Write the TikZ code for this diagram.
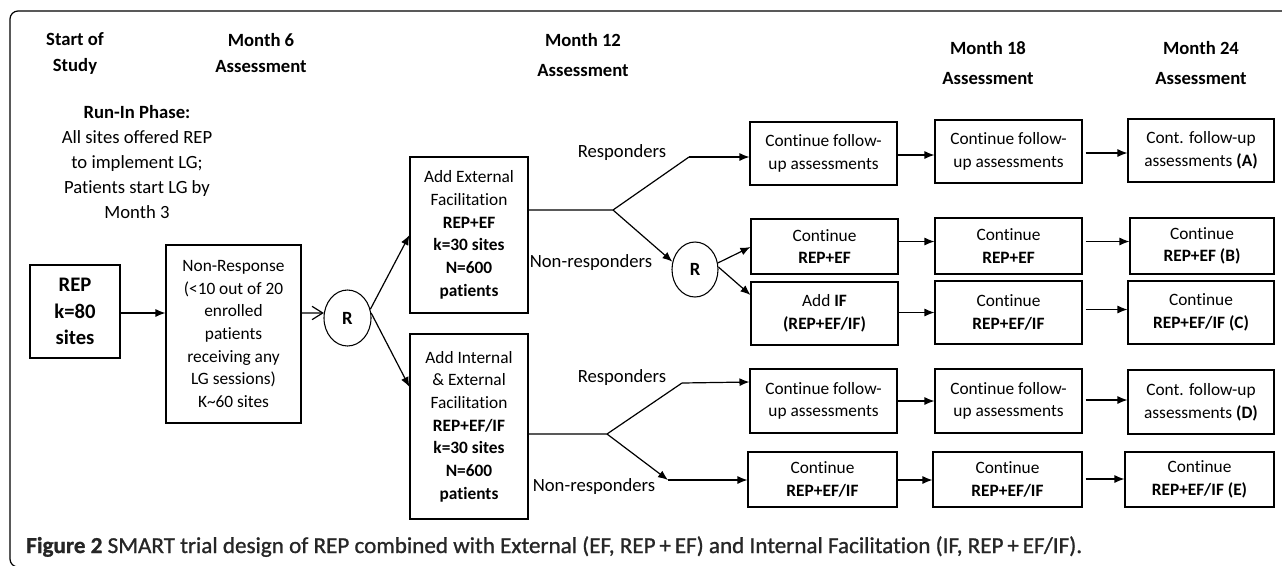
\documentclass[tikz,border=0pt]{standalone}
\usepackage{fontspec}
\setmainfont{Carlito}[Ligatures={NoCommon}]
\newfontfamily\capfont{Carlito}[FakeBold=1, Ligatures={NoCommon}]
\usetikzlibrary{arrows.meta,shapes.geometric}
\begin{document}
\begin{tikzpicture}[x=0.75pt,y=-0.75pt,
  box/.style={draw, line width=0.8pt, inner sep=0pt, align=center, font=\fontsize{13}{17}\selectfont},
  colbox/.style={box, minimum width=147*0.75pt},
  hdr/.style={align=center, inner sep=0pt, font=\bfseries\fontsize{14}{19.5}\selectfont},
  hdrw/.style={align=center, inner sep=0pt, font=\bfseries\fontsize{14}{22.5}\selectfont},
  lbl/.style={inner sep=0pt, font=\fontsize{14}{17}\selectfont},
  rnode/.style={draw, ellipse, line width=0.8pt, inner sep=0pt, minimum width=47*0.75pt, minimum height=56*0.75pt, font=\bfseries\fontsize{14}{17}\selectfont},
  arr/.style={line width=0.9pt, -{Latex[length=7.5pt,width=6pt]}},
  openarr/.style={line width=0.9pt, -{Straight Barb[length=8pt,width=10pt]}},
  ln/.style={line width=0.9pt}]
\useasboundingbox (0,0) rectangle (1282,565);
\clip (0,0) rectangle (1282,565);
% frame
\draw[line width=0.9pt, rounded corners=6pt] (1300,11) -- (10,11) -- (10,567) -- (1300,567);

% headers
\node[hdr] (h0) at (75,53) {Start of\\Study};
\node[hdr] (h6) at (261,53) {Month 6\\Assessment};
\node[hdrw] (h12) at (583,55) {Month 12\\Assessment};
\node[hdrw] (h18) at (988,63) {Month 18\\Assessment};
\node[hdrw] (h24) at (1201,63) {Month 24\\Assessment};

% run-in
\node[align=center, inner sep=0pt, font=\fontsize{14}{18.75}\selectfont] (run) at (137,162)
  {\textbf{Run-In Phase:}\\All sites offered REP\\to implement LG;\\Patients start LG by\\Month 3};

% left boxes
\node[box, minimum width=90*0.75pt, minimum height=93*0.75pt, font=\bfseries\fontsize{15.5}{20}\selectfont] (rep) at (75,311.5) {REP\\k=80\\sites};
\node[box, minimum width=135*0.75pt, minimum height=178*0.75pt] (nr) at (233.5,334)
  {Non-Response\\(<10 out of 20\\enrolled\\patients\\receiving any\\LG sessions)\\K\textasciitilde60 sites};
\node[rnode] (r1) at (347.5,318) {R};

\node[box, minimum width=118*0.75pt, minimum height=156*0.75pt] (ef) at (469,235)
  {Add External\\Facilitation\\\textbf{REP+EF}\\\textbf{k=30 sites}\\\textbf{N=600}\\\textbf{patients}};
\node[box, minimum width=118*0.75pt, minimum height=185*0.75pt] (ief) at (469,426.5)
  {Add Internal\\\& External\\Facilitation\\\textbf{REP+EF/IF}\\\textbf{k=30 sites}\\\textbf{N=600}\\\textbf{patients}};

\node[rnode, minimum width=46*0.75pt, minimum height=55*0.75pt] (r2) at (695,269.5) {R};

% column 1
\node[colbox, minimum height=63*0.75pt] (a1) at (823.5,153.5) {Continue follow-\\up assessments};
\node[colbox, minimum height=55*0.75pt] (b1) at (824.5,246.5) {Continue\\\textbf{REP+EF}};
\node[colbox, minimum height=63*0.75pt] (c1) at (824.5,313.5) {Add \textbf{IF}\\\textbf{(REP+EF/IF)}};
\node[colbox, minimum height=64*0.75pt] (d1) at (823.5,401) {Continue follow-\\up assessments};
\node[colbox, minimum width=149*0.75pt, minimum height=55*0.75pt] (e1) at (822.5,479.5) {Continue\\\textbf{REP+EF/IF}};

% column 2
\node[colbox, minimum height=63*0.75pt] (a2) at (1008.5,151.5) {Continue follow-\\up assessments};
\node[colbox, minimum height=56*0.75pt] (b2) at (1008.5,246) {Continue\\\textbf{REP+EF}};
\node[colbox, minimum height=63*0.75pt] (c2) at (1008.5,312.5) {Continue\\\textbf{REP+EF/IF}};
\node[colbox, minimum height=64*0.75pt] (d2) at (1008.5,401) {Continue follow-\\up assessments};
\node[colbox, minimum width=149*0.75pt, minimum height=55*0.75pt] (e2) at (1007.5,479.5) {Continue\\\textbf{REP+EF/IF}};

% column 3
\node[colbox, minimum width=146*0.75pt, minimum height=63*0.75pt] (a3) at (1201,150.5) {Cont. follow-up\\assessments \textbf{(A)}};
\node[colbox, minimum width=144*0.75pt, minimum height=56*0.75pt] (b3) at (1202,246) {Continue\\\textbf{REP+EF (B)}};
\node[colbox, minimum width=146*0.75pt, minimum height=63*0.75pt] (c3) at (1201,312.5) {Continue\\\textbf{REP+EF/IF (C)}};
\node[colbox, minimum width=146*0.75pt, minimum height=64*0.75pt] (d3) at (1201,402) {Cont. follow-up\\assessments \textbf{(D)}};
\node[colbox, minimum width=149*0.75pt, minimum height=55*0.75pt] (e3) at (1199.5,479.5) {Continue\\\textbf{REP+EF/IF (E)}};

% labels
\node[lbl] (l1) at (622,153) {Responders};
\node[lbl] (l2) at (591,263) {Non-responders};
\node[lbl] (l3) at (622,378) {Responders};
\node[lbl] (l4) at (594,487) {Non-responders};

% branch coordinates
\coordinate (b1pt) at (613,210);
\coordinate (b1up) at (689,157);
\coordinate (b2pt) at (607,434);
\coordinate (b2up) at (682,383);
\coordinate (b2dn) at (668,480);

% connectors
\draw[arr] (rep.east |- 0,313) -- (nr.west |- 0,313);
\draw[openarr] (nr.east |- 0,313) -- (r1.168);
\draw[arr] (r1.21) -- (ef.west);
\draw[arr] (r1.12) -- (ief.west |- 0,387);

\draw[ln] (ef.east |- 0,210) -- (b1pt) -- (b1up);
\draw[arr] (b1up) -- (a1.west |- 0,157);
\draw[arr] (b1pt) -- (r2.161);
\draw[arr] (r2.16) -- (b1.west |- 0,247);
\draw[arr] (r2.6) -- (c1.west |- 0,295);

\draw[ln] (ief.east |- 0,434) -- (b2pt) -- (b2up);
\draw[arr] (b2up) -- (d1.west |- 0,382);
\draw[arr] (b2pt) -- (b2dn);
\draw[arr] (b2dn) -- (e1.west |- 0,480);

% column arrows
\draw[arr] (a1.east |- 0,155) -- (a2.west |- 0,155);
\draw[arr] (b1.east |- 0,241.5) -- (b2.west |- 0,241.5);
\draw[arr] (c1.east |- 0,312.5) -- (c2.west |- 0,312.5);
\draw[arr] (d1.east |- 0,401) -- (d2.west |- 0,401);
\draw[arr] (e1.east |- 0,480) -- (e2.west |- 0,480);

\draw[arr, shorten <=3*0.75pt] (a2.east |- 0,153) -- (a3.west |- 0,153);
\draw[arr, shorten <=3*0.75pt] (b2.east |- 0,241.5) -- (b3.west |- 0,241.5);
\draw[arr, shorten <=3*0.75pt] (c2.east |- 0,309.5) -- (c3.west |- 0,309.5);
\draw[arr, shorten <=3*0.75pt] (d2.east |- 0,400) -- (d3.west |- 0,400);
\draw[arr, shorten <=3*0.75pt] (e2.east |- 0,479) -- (e3.west |- 0,479);

% caption
\node[anchor=base west, inner sep=0pt, text=black!85] (cap) at (26,553)
  {\resizebox{792pt}{12.5pt}{\capfont\textbf{Figure 2} SMART trial design of REP combined with External (EF, REP\,+\,EF) and Internal Facilitation (IF, REP\,+\,EF/IF).}};
\end{tikzpicture}
\end{document}
